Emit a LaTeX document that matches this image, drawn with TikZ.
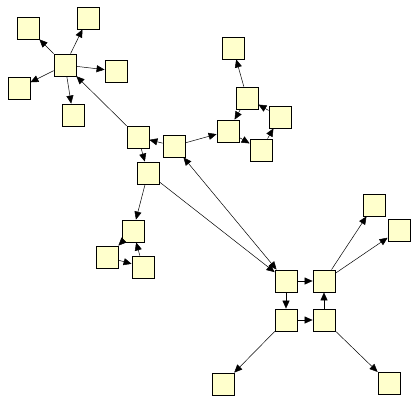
\documentclass[tikz,border=0pt]{standalone}
\usetikzlibrary{arrows.meta}
\definecolor{boxfill}{HTML}{FFFFCC}
\begin{document}
\begin{tikzpicture}[x=1pt,y=-1pt,
  box/.style={draw=black,fill=boxfill,line width=0.8pt,minimum size=22pt,inner sep=0pt},
  conn/.style={line width=0.5pt,-{Triangle[length=8pt,width=7pt]}},
  conn2/.style={line width=0.5pt,{Triangle[length=8pt,width=7pt]}-{Triangle[length=8pt,width=7pt]}}]
\useasboundingbox (0,0) rectangle (419,403);
\node[box] (A) at (28,28) {};
\node[box] (B) at (88,18) {};
\node[box] (H) at (65,65) {};
\node[box] (C) at (116,71) {};
\node[box] (D) at (19,88) {};
\node[box] (E) at (73,115) {};
\node[box] (F) at (138,137) {};
\node[box] (G) at (174,146) {};
\node[box] (I) at (148,173) {};
\node[box] (J) at (233,48) {};
\node[box] (K) at (247,98) {};
\node[box] (L) at (280,117) {};
\node[box] (M) at (228,131) {};
\node[box] (N) at (261,150) {};
\node[box] (O) at (133,231) {};
\node[box] (P) at (107,257) {};
\node[box] (Q) at (143,267) {};
\node[box] (R) at (286,281) {};
\node[box] (S) at (324,281) {};
\node[box] (T) at (286,320) {};
\node[box] (U) at (324,320) {};
\node[box] (V) at (374,205) {};
\node[box] (W) at (399,230) {};
\node[box] (X) at (223,384) {};
\node[box] (Y) at (389,383) {};
\draw[conn] (H) -- (A);
\draw[conn] (H) -- (B);
\draw[conn] (H) -- (C);
\draw[conn] (H) -- (D);
\draw[conn] (H) -- (E);
\draw[conn] (F) -- (H);
\draw[conn] (G) -- (F);
\draw[conn] (F) -- (I);
\draw[conn] (I) -- (R);
\draw[conn2] (G) -- (R);
\draw[conn] (G) -- (M);
\draw[conn] (K) -- (J);
\draw[conn] (K) -- (M);
\draw[conn] (L) -- (K);
\draw[conn] (M) -- (N);
\draw[conn] (N) -- (L);
\draw[conn] (I) -- (O);
\draw[conn] (O) -- (P);
\draw[conn] (P) -- (Q);
\draw[conn] (Q) -- (O);
\draw[conn] (R) -- (S);
\draw[conn] (R) -- (T);
\draw[conn] (T) -- (U);
\draw[conn] (U) -- (S);
\draw[conn] (S) -- (V);
\draw[conn] (S) -- (W);
\draw[conn] (T) -- (X);
\draw[conn] (U) -- (Y);
\end{tikzpicture}
\end{document}
